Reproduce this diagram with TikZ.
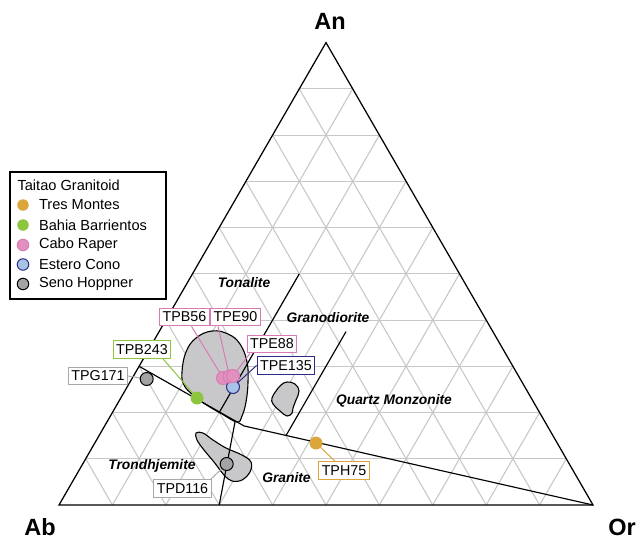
\documentclass[tikz,border=0pt]{standalone}
\usepackage{fontspec}
\setmainfont{Liberation Sans}
\usetikzlibrary{calc}
\definecolor{gridgray}{HTML}{C8C8C8}
\definecolor{blobgray}{HTML}{C8C8CA}
\definecolor{tmorange}{HTML}{DBA73C}
\definecolor{bbgreen}{HTML}{8CC63F}
\definecolor{crpink}{HTML}{E190C0}
\definecolor{crpinkline}{HTML}{D77CB3}
\definecolor{ecblue}{HTML}{A7C3E5}
\definecolor{ecnavy}{HTML}{2E2C86}
\definecolor{shgray}{HTML}{A3A3A5}
\definecolor{labgray}{HTML}{A8A8A8}
\tikzset{
  gridline/.style={gridgray, line width=1.1pt},
  edgeline/.style={black, line width=1.25pt},
  fieldline/.style={black, line width=1.15pt},
  blob/.style={fill=blobgray, draw=black, line width=1.1pt},
  sample/.style={circle, minimum size=13pt, inner sep=0pt, line width=1pt},
  legdot/.style={circle, minimum size=11.5pt, inner sep=0pt, line width=1pt},
  tag/.style={draw, fill=white, line width=1.2pt, inner xsep=3pt, inner ysep=2pt,
    minimum height=17.5pt, font=\fontsize{14.3}{14.3}\selectfont},
  leader/.style={line width=1pt},
  fieldlbl/.style={font=\fontsize{13.8}{13.8}\selectfont\bfseries\itshape},
  cornerlbl/.style={font=\fontsize{23.5}{23.5}\selectfont\bfseries},
  legtext/.style={anchor=west, font=\fontsize{14.6}{14.6}\selectfont}
}
\begin{document}
\begin{tikzpicture}[x=1pt,y=-1pt]
\useasboundingbox (0,0) rectangle (637,539);
% corners
\coordinate (Ab) at (59,505);
\coordinate (Or) at (593,505);
\coordinate (An) at (326,42.6);
% grid
\foreach \i in {1,...,9}{
  \pgfmathsetmacro{\a}{\i/10}
  \pgfmathsetmacro{\b}{1-\i/10}
  \draw[gridline] (barycentric cs:Ab=\b,An=\a) -- (barycentric cs:Or=\b,An=\a);
  \draw[gridline] (barycentric cs:Ab=\b,Or=\a) -- (barycentric cs:An=\b,Or=\a);
  \draw[gridline] (barycentric cs:Or=\b,Ab=\a) -- (barycentric cs:An=\b,Ab=\a);
}
\draw[edgeline] (Ab) -- (Or) -- (An) -- cycle;
% blobs
\draw[blob] plot[smooth cycle, tension=0.7] coordinates {(182,372) (186,352) (196,338) (212,331) (228,334) (240,344) (247,362) (248,382) (246,402) (242,416) (237,422) (222,414) (205,404) (193,395) (184,385)};
\draw[blob] plot[smooth cycle, tension=0.7] coordinates {(287,382) (295,384) (299,391) (296,400) (293,408) (292,413) (287,416) (280,411) (273,404) (272,398) (276,391) (281,385)};
\draw[blob] plot[smooth cycle, tension=0.6] coordinates {(196,433) (203,433) (213,440) (226,448) (242,455) (251,462) (250,472) (242,480) (232,481) (224,475) (214,462) (204,450) (197,440)};
% field boundaries
\coordinate (L0) at (barycentric cs:Ab=0.70,An=0.30);
\coordinate (J) at (barycentric cs:Ab=0.568,Or=0.261,An=0.171);
\coordinate (T0) at (barycentric cs:Ab=0.599,Or=0.2,An=0.201);
\coordinate (T1) at (barycentric cs:Ab=0.3,Or=0.2,An=0.5);
\coordinate (G0) at (barycentric cs:Ab=0.5,Or=0.35,An=0.15);
\coordinate (G1) at (barycentric cs:Ab=0.275,Or=0.35,An=0.375);
\coordinate (B0) at (barycentric cs:Ab=0.70,Or=0.30);
\coordinate (B1) at (barycentric cs:Ab=0.579,Or=0.239,An=0.182);
\draw[fieldline] (L0) -- (J) -- (Or);
\draw[fieldline] (T0) -- (T1);
\draw[fieldline] (G0) -- (G1);
\draw[fieldline] (B0) -- (B1);
% field labels
\node[fieldlbl] (ftonal) at (244,282.5) {Tonalite};
\node[fieldlbl] (fgrano) at (328,318) {Granodiorite};
\node[fieldlbl] (fqm) at (394,401) {Quartz Monzonite};
\node[fieldlbl] (ftrond) at (152,466) {Trondhjemite};
\node[fieldlbl] (fgran) at (286.5,478) {Granite};
% sample point positions
\coordinate (ptph75) at (316,443);
\coordinate (ptpb243) at (197,398);
\coordinate (ptpg171) at (146.7,379);
\coordinate (ptpd116) at (226.7,464);
\coordinate (ptpe135) at (233,387);
\coordinate (ptpb56) at (223,378);
\coordinate (ptpe90) at (229.5,376.5);
\coordinate (ptpe88) at (233,376);
% tags
\node[tag, draw=crpinkline] (ttpb56) at (184.5,317) {TPB56};
\node[tag, draw=crpinkline] (ttpe90) at (235.5,317) {TPE90};
\node[tag, draw=crpinkline] (ttpe88) at (272,344) {TPE88};
\node[tag, draw=ecnavy] (ttpe135) at (286,365.5) {TPE135};
\node[tag, draw=bbgreen] (ttpb243) at (142,349.5) {TPB243};
\node[tag, draw=labgray] (ttpg171) at (98,376) {TPG171};
\node[tag, draw=labgray] (ttpd116) at (182.5,488.5) {TPD116};
\node[tag, draw=tmorange] (ttph75) at (344,470.5) {TPH75};
% leaders
\draw[leader, crpinkline] ($(ttpb56.south)+(7,0)$) -- (ptpb56);
\draw[leader, crpinkline] ($(ttpe90.south)+(-17.5,0)$) -- (ptpe90);
\draw[leader, crpinkline] ($(ttpe88.south west)+(3.5,0)$) -- (ptpe88);
\draw[leader, ecnavy] (ttpe135.west) -- (ptpe135);
\draw[leader, bbgreen] ($(ttpb243.south)+(21,0)$) -- (ptpb243);
\draw[leader, labgray] (ttpg171.east) -- (ptpg171);
\draw[leader, labgray] ($(ttpd116.north east)+(-1,0)$) -- (ptpd116);
\draw[leader, tmorange] ($(ttph75.north)+(-9,0)$) -- (ptph75);
% points
\node[sample, fill=tmorange] (dtph75) at (ptph75) {};
\node[sample, fill=bbgreen] (dtpb243) at (ptpb243) {};
\node[sample, fill=shgray, draw=black] (dtpg171) at (ptpg171) {};
\node[sample, fill=shgray, draw=black] (dtpd116) at (ptpd116) {};
\node[sample, fill=ecblue, draw=ecnavy] (dtpe135) at (ptpe135) {};
\node[sample, fill=crpink, draw=crpinkline] (dtpb56) at (ptpb56) {};
\node[sample, fill=crpink, draw=crpinkline] (dtpe90) at (ptpe90) {};
\node[sample, fill=crpink, draw=crpinkline] (dtpe88) at (ptpe88) {};
% corner labels
\node[cornerlbl] (lan) at (330,21) {An};
\node[cornerlbl] (lab) at (40,527) {Ab};
\node[cornerlbl] (lor) at (622,527) {Or};
% legend
\draw[line width=1.2pt, fill=white] (10,172) rectangle (166,299);
\node[legtext] (legtitle) at (14,185) {Taitao Granitoid};
\node[legdot, fill=tmorange] (ld1) at (23,205) {};
\node[legtext] (lt1) at (35.5,205) {Tres Montes};
\node[legdot, fill=bbgreen] (ld2) at (23,225) {};
\node[legtext] (lt2) at (35.5,225) {Bahia Barrientos};
\node[legdot, fill=crpink, draw=crpinkline] (ld3) at (23,245) {};
\node[legtext] (lt3) at (35.5,245) {Cabo Raper};
\node[legdot, fill=ecblue, draw=ecnavy] (ld4) at (23,264.5) {};
\node[legtext] (lt4) at (35.5,264.5) {Estero Cono};
\node[legdot, fill=shgray, draw=black] (ld5) at (23,284) {};
\node[legtext] (lt5) at (35.5,284) {Seno Hoppner};
\end{tikzpicture}
\end{document}
